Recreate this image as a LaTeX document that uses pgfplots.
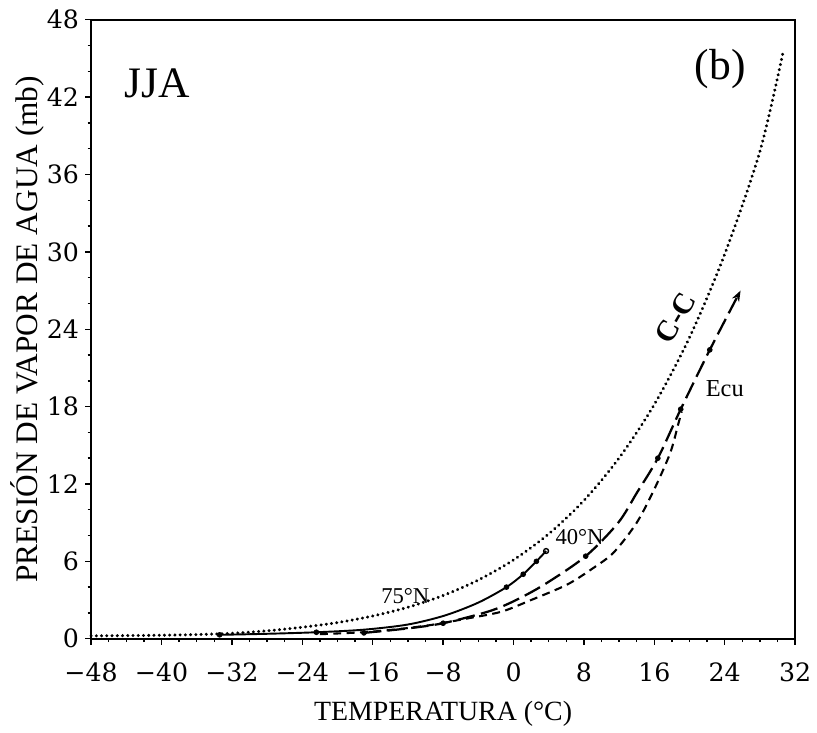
\documentclass[border=0pt]{standalone}
\usepackage{fontspec}
\setmainfont{Liberation Serif}
\newfontfamily\tickfont{DejaVu Serif}
\usepackage{pgfplots}
\pgfplotsset{compat=1.18}
\usetikzlibrary{arrows.meta}

\begin{document}
\begin{tikzpicture}
\begin{axis}[
    scale only axis,
    width=142.2mm, height=125mm,
    xmin=-48, xmax=32, ymin=0, ymax=48,
    axis line style={line width=1.1pt},
    xtick={-48,-40,...,32},
    xticklabels={−48,−40,−32,−24,−16,−8,0,8,16,24,32},
    ytick={0,6,...,48},
    minor x tick num=3, minor y tick num=2,
    tick align=outside, xtick pos=bottom, ytick pos=left,
    major tick length=1.2mm, minor tick length=0.7mm,
    tick style={line width=0.8pt, black},
    tick label style={font=\tickfont\fontsize{14.5}{16}\selectfont},
    /pgf/number format/assume math mode=true,
    xticklabel style={yshift=-2.4mm},
    xlabel={TEMPERATURA (°C)},
    ylabel={PRESIÓN DE VAPOR DE AGUA (mb)},
    xlabel style={font=\fontsize{16}{19}\selectfont, at={(axis description cs:0.5,-0.122)}, anchor=center},
    ylabel style={font=\fontsize{18}{21}\selectfont, at={(axis description cs:-0.090,0.5)}, anchor=center},
    clip=false,
]
% C-C (saturation), dotted
\addplot[black, line width=1.9pt, line cap=round, dash pattern=on 0.01pt off 3.0pt, smooth] coordinates {
(-48,0.22) (-44,0.24) (-40,0.27) (-36,0.32) (-32,0.42) (-28,0.61) (-24,0.89)
(-20,1.25) (-16,1.76) (-12,2.44) (-8,3.35) (-4,4.55) (0,6.11) (4,8.13)
(8,10.72) (12,14.02) (16,18.17) (20,23.37) (24,29.83) (28,37.81) (30.6,45.4)};
% solid curve
\addplot[black, line width=1.1pt, smooth] coordinates {
(-33.4,0.3) (-28,0.38) (-22.4,0.5) (-17,0.7) (-12,1.1) (-7.8,1.8) (-4,2.8)
(-0.8,4.0) (1.1,5.0) (2.6,6.0) (3.7,6.8)};
\addplot[black, only marks, mark=*, mark size=1.4pt] coordinates {
(-33.4,0.3) (-22.4,0.5) (-0.8,4.0) (1.1,5.0) (2.6,6.0)};
\addplot[black, only marks, mark=o, mark size=1.4pt, thick] coordinates {(3.7,6.8)};
% long dashes
\addplot[black, line width=1.3pt, dash pattern=on 3.5mm off 1.3mm, smooth, -{Stealth[length=2.2mm,width=1.6mm]}] coordinates {
(-17,0.45) (-12,0.8) (-8,1.2) (-2.9,2.1) (0,2.9) (3.5,4.2) (8.2,6.4)
(11.9,9.0) (14,11.3) (16.4,14.0) (19.0,17.8) (22.3,22.4) (25.8,27.0)};
\addplot[black, only marks, mark=*, mark size=1.4pt] coordinates {
(-17,0.45) (-8,1.2) (8.2,6.4) (16.4,14.0) (19.0,17.8) (22.3,22.4)};
% short dashes
\addplot[black, line width=1.2pt, dash pattern=on 1.6mm off 1.1mm, smooth] coordinates {
(-22,0.35) (-16,0.55) (-10,1.0) (-5,1.6) (-1.35,2.1) (2,3.0) (6.1,4.2)
(9.1,5.5) (11.4,6.7) (14,9.0) (16,11.6) (17.8,14.4) (18.7,16.6) (19.1,17.6)};

\node[font=\fontsize{25}{29}\selectfont, anchor=west] at (axis cs:-44.9,43.1) {JJA};
\node[font=\fontsize{25}{29}\selectfont] at (axis cs:23.5,44.2) {(b)};
\node[font=\fontsize{13}{15}\selectfont] at (axis cs:-12.3,3.3) {75°N};
\node[font=\fontsize{13}{15}\selectfont] at (axis cs:7.5,7.9) {40°N};
\node[font=\fontsize{14}{16}\selectfont] at (axis cs:24.0,19.4) {Ecu};
\node[font=\bfseries\fontsize{17}{20}\selectfont, rotate=60, inner sep=0pt] at (axis cs:18.4,24.9) {C-C};
\end{axis}
\path ([xshift=-18.4mm,yshift=-17.8mm]current axis.south west)
   -- ([xshift=2.8mm,yshift=4mm]current axis.north east);
\end{tikzpicture}
\end{document}
